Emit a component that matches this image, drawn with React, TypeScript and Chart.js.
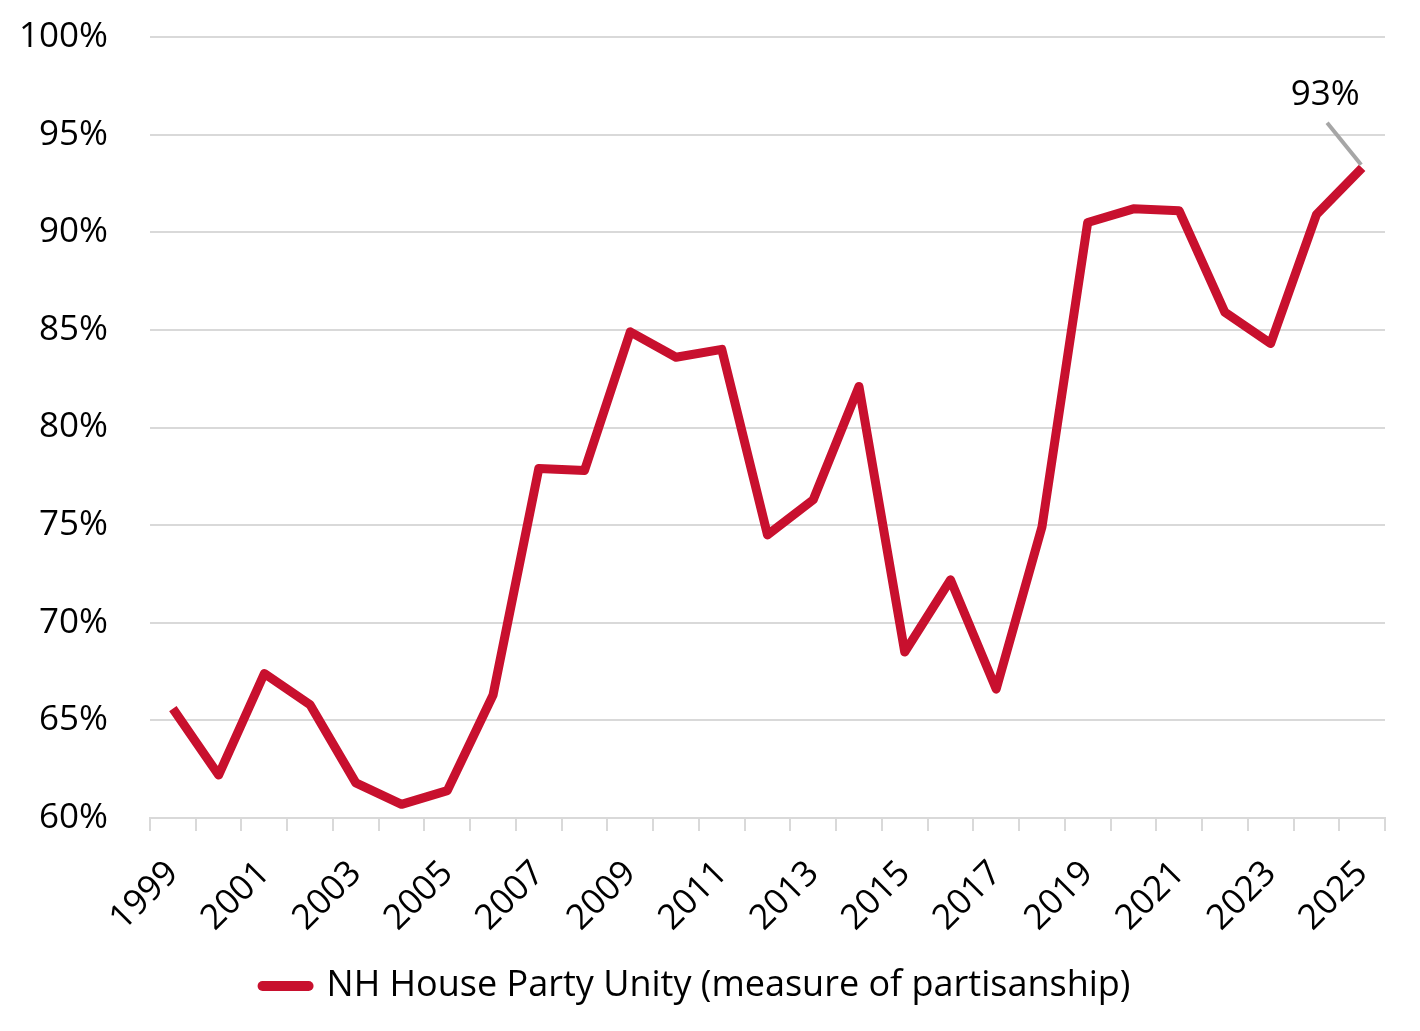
import React, { useEffect, useRef } from "react";
import { Chart, registerables } from "chart.js";

Chart.register(...registerables);

const years = [
  "1999", "2000", "2001", "2002", "2003", "2004", "2005", "2006", "2007",
  "2008", "2009", "2010", "2011", "2012", "2013", "2014", "2015", "2016",
  "2017", "2018", "2019", "2020", "2021", "2022", "2023", "2024", "2025",
];
const partyUnity = [
  65.6, 62.2, 67.4, 65.8, 61.8, 60.7, 61.4, 66.3, 77.9,
  77.8, 84.9, 83.6, 84.0, 74.5, 76.3, 82.1, 68.5, 72.2,
  66.6, 74.9, 90.5, 91.2, 91.1, 85.9, 84.3, 90.9, 93.3,
];
const seriesLabel = "NH House Party Unity (measure of partisanship)";
const calloutText = "93%";
const yMin = 60;
const yMax = 100;
const yStep = 5;

const FONT = "'Open Sans', 'Noto Sans', sans-serif";
const RED = "#C8102E";
const GRID = "#d9d9d9";

export default function App() {
  const ref = useRef<HTMLCanvasElement>(null);

  useEffect(() => {
    if (!ref.current) return;
    const calloutPlugin = {
      id: "callout",
      afterDatasetsDraw(chart: any) {
        const meta = chart.getDatasetMeta(0);
        const pt = meta.data[meta.data.length - 1];
        if (!pt) return;
        const ctx = chart.ctx;
        ctx.save();
        ctx.strokeStyle = "#a6a6a6";
        ctx.lineWidth = 4;
        ctx.beginPath();
        ctx.moveTo(pt.x - 35, pt.y - 45);
        ctx.lineTo(pt.x - 1, pt.y - 3);
        ctx.stroke();
        ctx.fillStyle = "#000";
        ctx.font = `35px ${FONT}`;
        ctx.textAlign = "center";
        ctx.textBaseline = "middle";
        ctx.fillText(calloutText, pt.x - 37, pt.y - 73);
        ctx.restore();
      },
    };

    const chart = new Chart(ref.current, {
      type: "line",
      data: {
        labels: years,
        datasets: [
          {
            label: seriesLabel,
            data: partyUnity,
            borderColor: RED,
            backgroundColor: RED,
            borderWidth: 9,
            pointRadius: 0,
            pointHoverRadius: 0,
            tension: 0,
            borderJoinStyle: "round",
          },
        ],
      },
      options: {
        animation: false,
        responsive: true,
        maintainAspectRatio: false,
        layout: { padding: { top: 29, right: 27, bottom: 9, left: 0 } },
        plugins: {
          tooltip: { enabled: false },
          legend: {
            position: "bottom",
            labels: {
              usePointStyle: true,
              pointStyle: "line",
              pointStyleWidth: 46,
              boxHeight: 10,
              padding: 10,
              color: "#000",
              font: { size: 36, family: FONT },
              generateLabels: (c: any) =>
                Chart.defaults.plugins.legend.labels
                  .generateLabels(c)
                  .map((l: any) => ({ ...l, lineWidth: 10, lineCap: "round" })),
            },
          },
        },
        scales: {
          x: {
            type: "category",
            offset: true,
            grid: {
              offset: true,
              drawOnChartArea: false,
              color: GRID,
              lineWidth: 2,
              tickLength: 13,
              tickWidth: 2,
            },
            border: { color: GRID, width: 2 },
            ticks: {
              autoSkip: false,
              maxRotation: 45,
              minRotation: 45,
              padding: 22,
              color: "#000",
              font: { size: 35, family: FONT },
              callback: (_v: any, i: number) => (i % 2 === 0 ? years[i] : ""),
            },
            afterFit: (s: any) => {
              s.height = 140;
              s.paddingLeft = 0;
              s.paddingRight = 0;
            },
          },
          y: {
            min: yMin,
            max: yMax,
            grid: { color: GRID, lineWidth: 2, drawTicks: false },
            border: { display: false },
            ticks: {
              stepSize: yStep,
              padding: 42,
              color: "#000",
              font: { size: 35, family: FONT },
              callback: (v: any) => `${v}%`,
            },
            afterFit: (s: any) => {
              s.width = 142;
              s.paddingTop = 0;
              s.paddingBottom = 0;
            },
          },
        },
      },
      plugins: [calloutPlugin],
    });
    return () => chart.destroy();
  }, []);

  return (
    <div style={{ width: 1404, height: 1015, position: "relative" }}>
      <canvas ref={ref} />
    </div>
  );
}
